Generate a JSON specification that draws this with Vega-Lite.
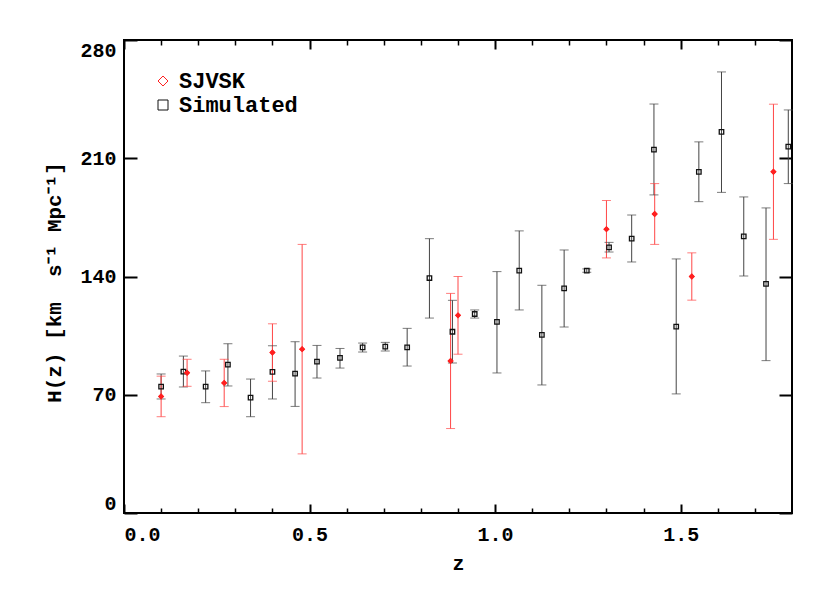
{
  "$schema": "https://vega.github.io/schema/vega-lite/v6.json",
  "width": 668,
  "height": 473,
  "autosize": "none",
  "padding": {"left": 124, "top": 40, "right": 38, "bottom": 80},
  "background": "white",
  "config": {
    "view": {"stroke": "black", "strokeWidth": 2},
    "font": "Liberation Mono",
    "axis": {
      "labelFont": "Liberation Mono", "labelFontWeight": "bold", "labelFontSize": 20, "labelColor": "black",
      "titleFont": "Liberation Mono", "titleFontWeight": "bold", "titleFontSize": 20, "titleColor": "black",
      "tickColor": "black", "domain": false, "grid": false
    },
    "legend": {
      "labelFont": "Liberation Mono", "labelFontWeight": "bold", "labelFontSize": 22, "labelColor": "black"
    }
  },
  "data": {"values": [
    {"series": "Simulated", "z": 0.100, "H": 74.8, "lo": 67.5, "hi": 82.3},
    {"series": "Simulated", "z": 0.160, "H": 83.7, "lo": 74.6, "hi": 92.9},
    {"series": "Simulated", "z": 0.220, "H": 74.8, "lo": 65.3, "hi": 84.1},
    {"series": "Simulated", "z": 0.280, "H": 87.8, "lo": 75.2, "hi": 100.2},
    {"series": "Simulated", "z": 0.341, "H": 68.3, "lo": 57.0, "hi": 79.3},
    {"series": "Simulated", "z": 0.400, "H": 83.5, "lo": 67.5, "hi": 99.0},
    {"series": "Simulated", "z": 0.461, "H": 82.5, "lo": 63.1, "hi": 101.4},
    {"series": "Simulated", "z": 0.520, "H": 89.6, "lo": 79.9, "hi": 99.2},
    {"series": "Simulated", "z": 0.582, "H": 91.8, "lo": 85.8, "hi": 97.4},
    {"series": "Simulated", "z": 0.643, "H": 98.0, "lo": 95.3, "hi": 100.6},
    {"series": "Simulated", "z": 0.704, "H": 98.5, "lo": 95.9, "hi": 101.0},
    {"series": "Simulated", "z": 0.763, "H": 98.0, "lo": 87.0, "hi": 109.3},
    {"series": "Simulated", "z": 0.823, "H": 139.1, "lo": 115.4, "hi": 162.4},
    {"series": "Simulated", "z": 0.885, "H": 107.3, "lo": 88.8, "hi": 125.9},
    {"series": "Simulated", "z": 0.945, "H": 117.8, "lo": 115.4, "hi": 120.2},
    {"series": "Simulated", "z": 1.005, "H": 113.1, "lo": 82.9, "hi": 142.9},
    {"series": "Simulated", "z": 1.065, "H": 143.5, "lo": 120.2, "hi": 167.0},
    {"series": "Simulated", "z": 1.126, "H": 105.4, "lo": 75.8, "hi": 134.8},
    {"series": "Simulated", "z": 1.186, "H": 133.0, "lo": 110.1, "hi": 155.7},
    {"series": "Simulated", "z": 1.247, "H": 143.5, "lo": 142.5, "hi": 144.5},
    {"series": "Simulated", "z": 1.307, "H": 157.2, "lo": 154.5, "hi": 160.2},
    {"series": "Simulated", "z": 1.368, "H": 162.4, "lo": 148.6, "hi": 176.4},
    {"series": "Simulated", "z": 1.428, "H": 215.1, "lo": 188.3, "hi": 242.1},
    {"series": "Simulated", "z": 1.488, "H": 110.3, "lo": 70.5, "hi": 150.4},
    {"series": "Simulated", "z": 1.549, "H": 201.9, "lo": 184.3, "hi": 219.7},
    {"series": "Simulated", "z": 1.610, "H": 225.6, "lo": 189.8, "hi": 261.1},
    {"series": "Simulated", "z": 1.670, "H": 163.8, "lo": 140.3, "hi": 187.1},
    {"series": "Simulated", "z": 1.730, "H": 135.6, "lo": 90.2, "hi": 180.6},
    {"series": "Simulated", "z": 1.790, "H": 216.9, "lo": 195.0, "hi": 238.6},
    {"series": "SJVSK", "z": 0.10, "H": 69, "lo": 57, "hi": 81},
    {"series": "SJVSK", "z": 0.17, "H": 83, "lo": 75, "hi": 91},
    {"series": "SJVSK", "z": 0.27, "H": 77, "lo": 63, "hi": 91},
    {"series": "SJVSK", "z": 0.40, "H": 95, "lo": 78, "hi": 112},
    {"series": "SJVSK", "z": 0.48, "H": 97, "lo": 35, "hi": 159},
    {"series": "SJVSK", "z": 0.88, "H": 90, "lo": 50, "hi": 130},
    {"series": "SJVSK", "z": 0.90, "H": 117, "lo": 94, "hi": 140},
    {"series": "SJVSK", "z": 1.30, "H": 168, "lo": 151, "hi": 185},
    {"series": "SJVSK", "z": 1.43, "H": 177, "lo": 159, "hi": 195},
    {"series": "SJVSK", "z": 1.53, "H": 140, "lo": 126, "hi": 154},
    {"series": "SJVSK", "z": 1.75, "H": 202, "lo": 162, "hi": 242}
  ]},
  "resolve": {"axis": {"x": "independent", "y": "independent"}},
  "layer": [
    {
      "mark": {"type": "rule", "strokeWidth": 1},
      "encoding": {
        "x": {"field": "z", "type": "quantitative",
          "scale": {"domain": [0, 1.8], "nice": false, "zero": false},
          "axis": {"orient": "bottom", "values": [0, 0.5, 1, 1.5], "format": ".1f", "tickSize": -9, "tickWidth": 2,
            "labelPadding": 20, "title": "z", "titleY": 56, "titleBaseline": "alphabetic"}},
        "y": {"field": "lo", "type": "quantitative",
          "scale": {"domain": [0, 280], "nice": false},
          "axis": {"orient": "left", "values": [0, 70, 140, 210, 280], "tickSize": -13, "tickWidth": 2,
            "labelFlush": true, "labelPadding": 21,
            "title": "H(z)\u00a0[km\u00a0\u00a0s⁻¹\u00a0Mpc⁻¹]", "titleFontSize": 21, "titleX": -70, "titleY": 242, "titleAngle": -90, "titleBaseline": "middle", "titleAlign": "center"}},
        "y2": {"field": "hi"},
        "stroke": {"field": "series", "type": "nominal",
          "scale": {"domain": ["Simulated", "SJVSK"], "range": ["#444444", "#ff4646"]}, "legend": null}
      }
    },
    {
      "mark": {"type": "tick", "orient": "horizontal", "size": 9, "thickness": 1},
      "encoding": {
        "x": {"field": "z", "type": "quantitative",
          "scale": {"domain": [0, 1.8], "nice": false, "zero": false},
          "axis": {"orient": "bottom", "values": [0.1, 0.2, 0.3, 0.4, 0.6, 0.7, 0.8, 0.9, 1.1, 1.2, 1.3, 1.4, 1.6, 1.7],
            "labels": false, "tickSize": -5, "tickWidth": 1.5, "title": null}},
        "y": {"field": "lo", "type": "quantitative",
          "scale": {"domain": [0, 280], "nice": false},
          "axis": {"orient": "right", "values": [0, 70, 140, 210, 280], "labels": false, "tickSize": -13, "tickWidth": 2, "title": null}},
        "fill": {"field": "series", "type": "nominal",
          "scale": {"domain": ["Simulated", "SJVSK"], "range": ["#444444", "#ff4646"]}, "legend": null}
      }
    },
    {
      "mark": {"type": "tick", "orient": "horizontal", "size": 9, "thickness": 1},
      "encoding": {
        "x": {"field": "z", "type": "quantitative",
          "scale": {"domain": [0, 1.8], "nice": false, "zero": false},
          "axis": {"orient": "top", "values": [0, 0.5, 1, 1.5], "labels": false, "tickSize": -9, "tickWidth": 2, "title": null}},
        "y": {"field": "hi", "type": "quantitative",
          "scale": {"domain": [0, 280], "nice": false}, "axis": null},
        "fill": {"field": "series", "type": "nominal",
          "scale": {"domain": ["Simulated", "SJVSK"], "range": ["#444444", "#ff4646"]}, "legend": null}
      }
    },
    {
      "mark": {"type": "point", "filled": false, "strokeWidth": 1.3, "opacity": 1, "size": 20},
      "encoding": {
        "x": {"field": "z", "type": "quantitative",
          "scale": {"domain": [0, 1.8], "nice": false, "zero": false},
          "axis": {"orient": "top", "values": [0.1, 0.2, 0.3, 0.4, 0.6, 0.7, 0.8, 0.9, 1.1, 1.2, 1.3, 1.4, 1.6, 1.7],
            "labels": false, "tickSize": -5, "tickWidth": 1.5, "title": null}},
        "y": {"field": "H", "type": "quantitative",
          "scale": {"domain": [0, 280], "nice": false}, "axis": null},
        "shape": {"field": "series", "type": "nominal",
          "scale": {"domain": ["SJVSK", "Simulated"], "range": ["diamond", "square"]},
          "legend": {"orient": "none", "legendX": 28, "legendY": 30, "title": null,
            "symbolSize": 100, "symbolStrokeWidth": 1, "labelOffset": 5, "rowPadding": 2}},
        "color": {"field": "series", "type": "nominal",
          "scale": {"domain": ["SJVSK", "Simulated"], "range": ["#ff2020", "#111111"]},
          "legend": {"orient": "none", "legendX": 28, "legendY": 30, "title": null,
            "symbolSize": 100, "symbolStrokeWidth": 1, "labelOffset": 5, "rowPadding": 2}}
      }
    },
    {
      "transform": [{"filter": "datum.series === 'SJVSK'"}],
      "mark": {"type": "point", "filled": true, "shape": "diamond", "color": "#ff2020", "size": 34, "opacity": 1},
      "encoding": {
        "x": {"field": "z", "type": "quantitative",
          "scale": {"domain": [0, 1.8], "nice": false, "zero": false}, "axis": null},
        "y": {"field": "H", "type": "quantitative",
          "scale": {"domain": [0, 280], "nice": false}, "axis": null}
      }
    }
  ]
}
